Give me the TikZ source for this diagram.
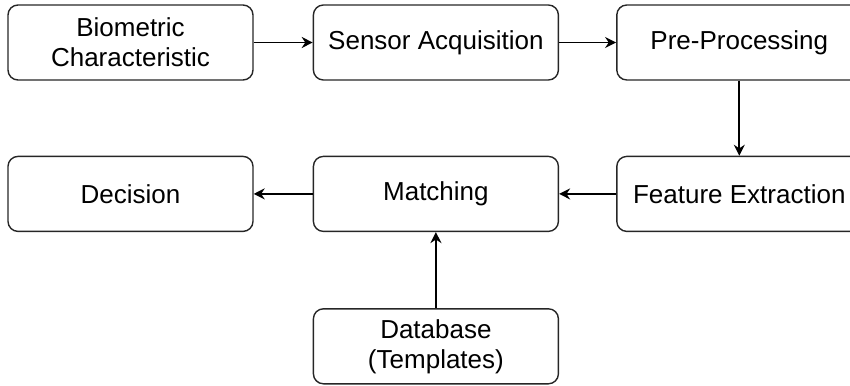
\documentclass[tikz,border=0pt]{standalone}
\usepackage{fontspec}
\setmainfont{Liberation Sans}
\usetikzlibrary{positioning,arrows.meta}
\tikzstyle{stage} = [rectangle, rounded corners=5pt, draw=black!85, line width=.7pt, minimum width=122.5pt, minimum height=37.5pt, align=center, font=\fontsize{13}{15}\selectfont]
\tikzstyle{flow} = [-{Stealth[length=5.5pt,width=5.5pt,inset=1.8pt]}, line width=.95pt]

\begin{document}
\begin{tikzpicture}[x=.5pt,y=.5pt]%
				\useasboundingbox (0,0) rectangle (850,-385);
				\node [stage] (bio) at (130.5,-42.5) {Biometric\\Characteristic};
				\node [stage, right=29.5pt of bio] (sensor) {Sensor Acquisition};
				\node [stage, right=28.5pt of sensor] (pre) {Pre-Processing};
				\node [stage, below=37.5pt of pre] (feat) {Feature Extraction};
				\node [stage, left=28.5pt of feat] (match) {Matching};
				\node [stage, left=29.5pt of match] (dec) {Decision};
				\node [stage, below=38pt of match] (db) {Database\\(Templates)};
				\draw [flow] (bio) -- (sensor);
				\draw [flow] (sensor) -- (pre);
				\draw [flow] (pre) -- (feat);
				\draw [flow] (feat) -- (match);
				\draw [flow] (match) -- (dec);
				\draw [flow] (db) -- (match);
	\end{tikzpicture}
\end{document}
